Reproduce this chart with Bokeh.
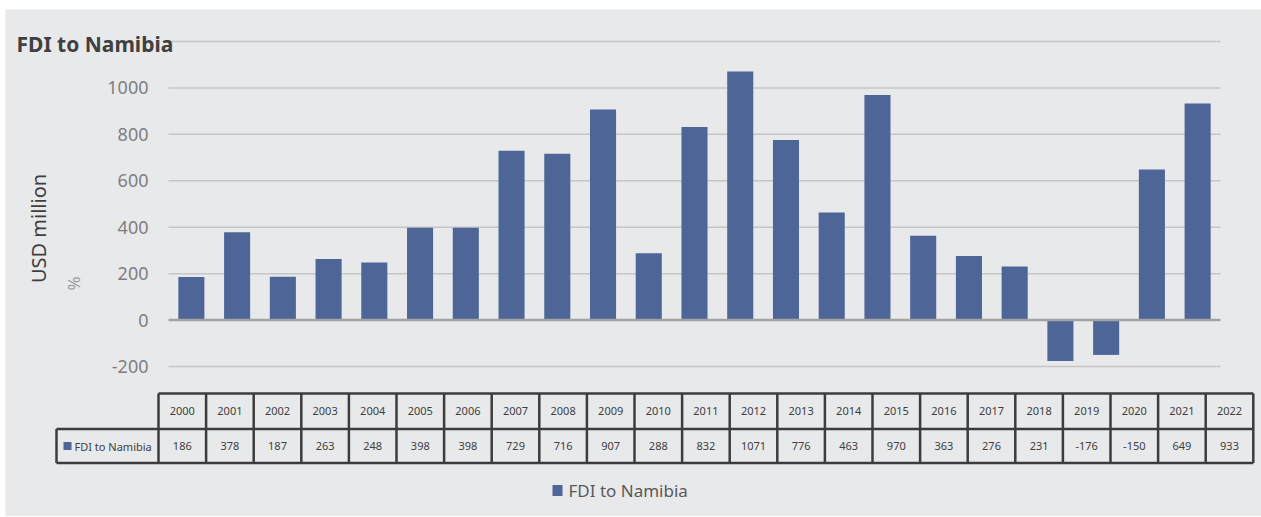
from bokeh.plotting import figure
from bokeh.models import Range1d, ColumnDataSource
from bokeh.layouts import column
from bokeh.embed import file_html
from bokeh.resources import INLINE
from bokeh.core.properties import value

# ---- data ----
years = ["2000", "2001", "2002", "2003", "2004", "2005", "2006", "2007", "2008", "2009",
         "2010", "2011", "2012", "2013", "2014", "2015", "2016", "2017", "2018", "2019",
         "2020", "2021", "2022"]
fdi = [186, 378, 187, 263, 248, 398, 398, 729, 716, 907, 288, 832, 1071, 776, 463,
       970, 363, 276, 231, -176, -150, 649, 933]
y_ticks = [-200, 0, 200, 400, 600, 800, 1000]
y_tick_labels = ["-200", "0", "200", "400", "600", "800", "1000"]
grid_ticks = [-200, 0, 200, 400, 600, 800, 1000, 1200]
series_name = "FDI to Namibia"
title_text = "FDI to Namibia"
y_label = "USD million"
unit_label = "%"

BG = "#E8E9EB"
BAR = "#4E6597"
FONT = "Noto Sans"

# ---- canvas / plot-area geometry (pixels) ----
W, H = 1256, 507
PL, PR, PT, PB = 163, 1215, 32, 357      # plot area inside the canvas
YMIN, YMAX = -200, 1200
n = len(years)

ppx = (PR - PL) / n                       # pixels per category
ppy = (PB - PT) / (YMAX - YMIN)           # pixels per unit
x_range = Range1d(-PL / ppx, n + (W - PR) / ppx)
y_range = Range1d(YMIN - (H - PB) / ppy, YMAX + PT / ppy)

p = figure(width=W, height=H, x_range=x_range, y_range=y_range,
           output_backend="svg", toolbar_location=None,
           min_border_left=0, min_border_right=0, min_border_top=0, min_border_bottom=0)
p.extra_x_ranges = {"px": Range1d(0, W)}
p.extra_y_ranges = {"py": Range1d(H, 0)}
p.background_fill_color = BG
p.border_fill_color = BG
p.outline_line_color = None
p.axis.visible = False
p.grid.visible = False

# gridlines
p.segment(x0=[0] * len(grid_ticks), x1=[n] * len(grid_ticks), y0=grid_ticks, y1=grid_ticks,
          line_color="#C6C6C6", line_width=1.5)

# bars
xs = [i + 0.5 for i in range(n)]
src = ColumnDataSource(dict(x=xs, fdi=fdi, year=years))
p.vbar(x="x", top="fdi", bottom=0, width=0.57, source=src, fill_color=BAR, line_color=None)

# zero line
p.segment(x0=[0], x1=[n], y0=[0], y1=[0], line_color="#A3A3A3", line_width=2.5)

# y tick labels
p.text(x=[PL - 20] * len(y_ticks), y=y_ticks, text=y_tick_labels, x_range_name="px",
       text_font=value(FONT), text_font_size="18px", text_color="#7F7F7F",
       text_align="right", text_baseline="middle")

# title and axis labels
p.text(x=[11], y=[34], text=[title_text], x_range_name="px", y_range_name="py",
       text_font=value(FONT), text_font_style="bold", text_font_size="21px",
       text_color="#404040", text_align="left", text_baseline="middle")
p.text(x=[33], y=[219], text=[y_label], angle=1.5708, x_range_name="px", y_range_name="py",
       text_font=value(FONT), text_font_size="20px", text_color="#404040",
       text_align="center", text_baseline="middle")
p.text(x=[68], y=[274], text=[unit_label], angle=1.5708, x_range_name="px", y_range_name="py",
       text_font=value(FONT), text_font_size="17px", text_color="#9A9A9A",
       text_align="center", text_baseline="middle")

# ---- data table ----
col0 = 153.0
cw = 47.6
lab_left = 51.0
y_top, y_mid, y_bot = 384.0, 419.5, 453.5
col_edges = [col0 + i * cw for i in range(n + 1)]
centers = [col0 + (i + 0.5) * cw for i in range(n)]
right = col_edges[-1]

x0s, y0s, x1s, y1s = [], [], [], []
x0s += [col0, lab_left, lab_left]
x1s += [right, right, right]
y0s += [y_top, y_mid, y_bot]
y1s += [y_top, y_mid, y_bot]
for e in col_edges:
    x0s.append(e); x1s.append(e); y0s.append(y_top); y1s.append(y_bot)
x0s.append(lab_left); x1s.append(lab_left); y0s.append(y_mid); y1s.append(y_bot)
p.segment(x0=x0s, y0=y0s, x1=x1s, y1=y1s, line_color="#3C3C3C", line_width=2.5,
          x_range_name="px", y_range_name="py")

p.text(x=centers, y=[(y_top + y_mid) / 2] * n, text=years, x_range_name="px", y_range_name="py",
       text_font=value(FONT), text_font_size="11px", text_color="#404040",
       text_align="center", text_baseline="middle")
p.text(x=centers, y=[(y_mid + y_bot) / 2] * n, text=[str(v) for v in fdi],
       x_range_name="px", y_range_name="py",
       text_font=value(FONT), text_font_size="11px", text_color="#404040",
       text_align="center", text_baseline="middle")
p.rect(x=[lab_left + 11], y=[(y_mid + y_bot) / 2], width=8, height=8, fill_color=BAR,
       line_color=None, x_range_name="px", y_range_name="py")
p.text(x=[lab_left + 18], y=[(y_mid + y_bot) / 2], text=[series_name],
       x_range_name="px", y_range_name="py",
       text_font=value(FONT), text_font_size="11px", text_color="#404040",
       text_align="left", text_baseline="middle")

# ---- legend ----
p.rect(x=[552], y=[481], width=10, height=11, fill_color=BAR, line_color=None,
       x_range_name="px", y_range_name="py")
p.text(x=[563], y=[481], text=[series_name], x_range_name="px", y_range_name="py",
       text_font=value(FONT), text_font_size="17px", text_color="#595959",
       text_align="left", text_baseline="middle")

layout = column(p)
layout.margin = (9, 0, 0, 5)
open("out.html", "w").write(file_html(layout, INLINE))
